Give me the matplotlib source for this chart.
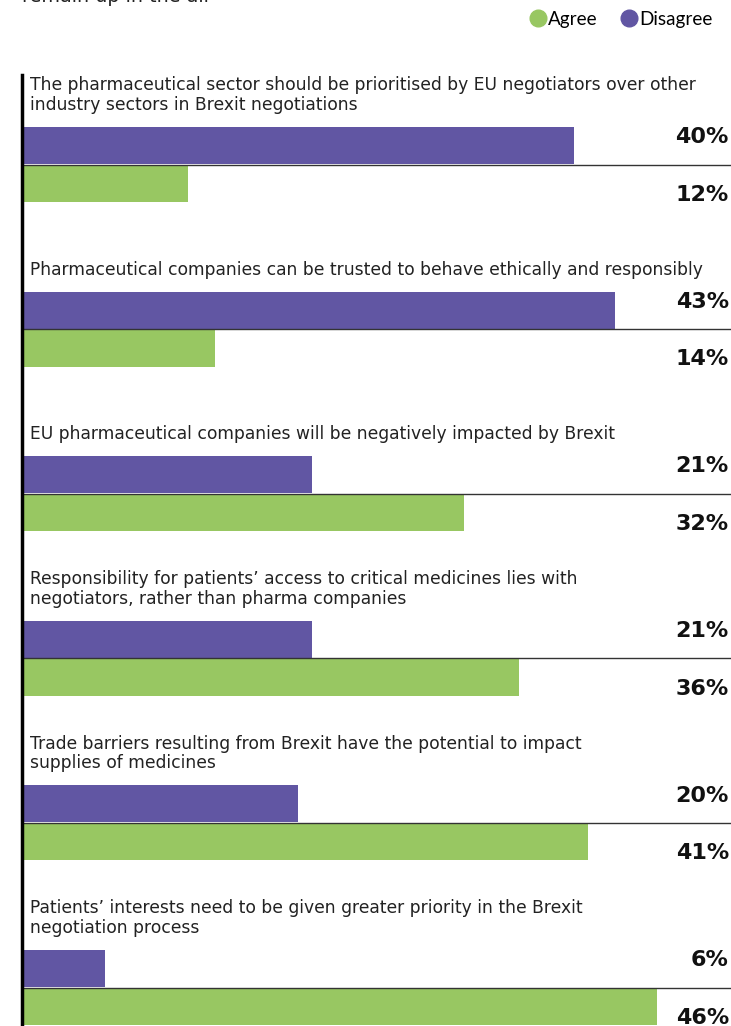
import matplotlib
matplotlib.use("Agg")
import matplotlib.pyplot as plt
from matplotlib.lines import Line2D

# data
questions = [
    "The pharmaceutical sector should be prioritised by EU negotiators over other\nindustry sectors in Brexit negotiations",
    "Pharmaceutical companies can be trusted to behave ethically and responsibly",
    "EU pharmaceutical companies will be negatively impacted by Brexit",
    "Responsibility for patients\u2019 access to critical medicines lies with\nnegotiators, rather than pharma companies",
    "Trade barriers resulting from Brexit have the potential to impact\nsupplies of medicines",
    "Patients\u2019 interests need to be given greater priority in the Brexit\nnegotiation process",
]
disagree = [40, 43, 21, 21, 20, 6]
agree = [12, 14, 32, 36, 41, 46]

purple = "#6156a3"
green = "#98c762"
txt = "#222222"

W, H = 731, 1026
fig = plt.figure(figsize=(W / 100, H / 100), dpi=100)
left = 22 / W
ax = fig.add_axes([left, 0, 1 - left, 1])
ax.set_xlim(0, (W - 22) / 13.8)
group_px = 164.6
ax.set_ylim((H - 145.5) / group_px, -145.5 / group_px)
ax.axis("off")

bh = 37 / group_px
gap = 38 / group_px
ytr = ax.get_yaxis_transform()
for i, (q, d, a) in enumerate(zip(questions, disagree, agree)):
    ax.barh(i, d, height=bh, color=purple, align="center")
    ax.barh(i + gap, a, height=bh, color=green, align="center")
    ax.plot([0, 1], [i + gap / 2, i + gap / 2], transform=ytr,
            color="#333333", lw=1, clip_on=False)
    ax.text(0.997, i - 0.05, f"{d}%", transform=ytr, ha="right", va="center",
            fontsize=16, fontweight="bold", color="#111111", family="DejaVu Sans")
    ax.text(0.997, i + 0.30, f"{a}%", transform=ytr, ha="right", va="center",
            fontsize=16, fontweight="bold", color="#111111", family="DejaVu Sans")
    ax.text(8 / 708, i - bh / 2 - 13 / group_px, q, transform=ytr,
            ha="left", va="bottom", fontsize=12.3, color=txt, linespacing=1.12,
            family="DejaVu Sans")

# left vertical rule
fig.add_artist(Line2D([left, left], [0, 1 - 75 / H], color="black", lw=2.5))

# cut-off subtitle at the top
fig.text(22 / W, 1 - 2 / H, "remain up in the air", ha="left", va="baseline",
         fontsize=13.8, color=txt, family="DejaVu Sans")

handles = [
    Line2D([], [], marker="o", ls="", color=green, markersize=12),
    Line2D([], [], marker="o", ls="", color=purple, markersize=12),
]
fig.legend(handles, ["Agree", "Disagree"], loc="center right",
           bbox_to_anchor=(1 - 9 / W, 1 - 19 / H), ncol=2, frameon=False,
           prop={"family": "Lato", "size": 13.6}, handletextpad=0.05,
           columnspacing=1.15, borderpad=0, handlelength=1.0)

fig.savefig("out.png", dpi=100)
